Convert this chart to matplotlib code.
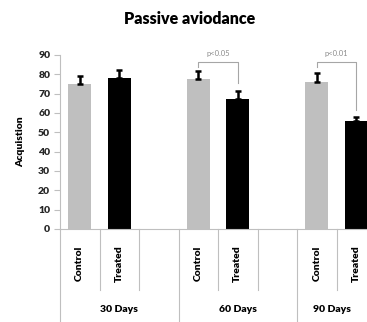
import numpy as np
import matplotlib.pyplot as plt
import matplotlib.transforms as mtransforms

plt.rcParams['font.family'] = ['Lato', 'DejaVu Sans']

groups = ["30 Days", "60 Days", "90 Days"]
arms = ["Control", "Treated"]
control_mean = [75, 77.5, 76]
control_err = [4, 4, 4.5]
treated_mean = [78, 67.5, 56]
treated_err = [4, 4, 2]
# significance brackets: group index, text, left drop to, right drop to, bar level
sig_group = [1, 2]
sig_text = ["p<0.05", "p<0.01"]
sig_level = [86.5, 86.5]
sig_left = [84, 84]
sig_right = [75.5, 61.5]

W, H = 367, 322
fig = plt.figure(figsize=(W / 100, H / 100), dpi=100)
ax_l, ax_r, ax_t, ax_b = 60, 367, 55, 229
ax = fig.add_axes([ax_l / W, (H - ax_b) / H, (ax_r - ax_l) / W, (ax_b - ax_t) / H])

slot_px = 39.5
xmax = -0.5 + (ax_r - ax_l) / slot_px

grey = "#bfbfbf"
line_grey = "#bfbfbf"
wt = "heavy"
x_ctrl = np.arange(len(groups)) * 3
x_trt = x_ctrl + 1
bw = 0.57
ax.bar(x_ctrl, control_mean, width=bw, color=grey, zorder=2)
ax.bar(x_trt, treated_mean, width=bw, color="black", zorder=2)
ax.errorbar(x_ctrl, control_mean, yerr=[np.zeros(3), control_err], fmt="none",
            ecolor="black", elinewidth=1.8, capsize=2.5, capthick=1.8, zorder=3)
ax.errorbar(x_trt, treated_mean, yerr=[np.zeros(3), treated_err], fmt="none",
            ecolor="black", elinewidth=1.8, capsize=2.5, capthick=1.8, zorder=3)

for g, txt, lv, lo, ro in zip(sig_group, sig_text, sig_level, sig_left, sig_right):
    xl, xr = x_ctrl[g], x_trt[g]
    ax.plot([xl, xl, xr, xr], [lo, lv, lv, ro], color="#a6a6a6", lw=0.8, clip_on=False)
    ax.text((xl + xr) / 2, lv + 2.5, txt, ha="center", va="bottom", fontsize=5.5,
            color="#8c8c8c")

ax.set_xlim(-0.5, xmax)
ax.set_ylim(0, 90)
ax.set_yticks(np.arange(0, 91, 10))
ax.tick_params(axis="y", length=4, color=line_grey, labelsize=7.5, labelcolor="#262626", pad=3)
for lab in ax.get_yticklabels():
    lab.set_fontweight(wt)

ticks = []
ticklabels = []
for g in range(len(groups)):
    ticks += [x_ctrl[g], x_trt[g]]
    ticklabels += arms
ax.set_xticks(ticks)
ax.set_xticklabels(ticklabels, rotation=90, fontsize=7.5, fontweight=wt, va="top")
ax.tick_params(axis="x", length=0, pad=12)

for s in ["top", "right"]:
    ax.spines[s].set_visible(False)
ax.spines["left"].set_color(line_grey)
ax.spines["bottom"].set_color(line_grey)

trans = mtransforms.blended_transform_factory(ax.transData, ax.transAxes)
ax_h = ax_b - ax_t
short_end = (ax_b - 290) / ax_h
long_end = (ax_b - H) / ax_h
for g in range(len(groups)):
    xs = 3 * g - 0.5
    ax.plot([xs, xs], [0, long_end], color=line_grey, lw=0.8, transform=trans, clip_on=False)
    for k in range(2):
        xk = 3 * g + k + 0.5
        ax.plot([xk, xk], [0, short_end], color=line_grey, lw=0.8, transform=trans, clip_on=False)
    right = min(3 * g + 2.5, xmax)
    ax.text((xs + right) / 2, (ax_b - 310) / ax_h, groups[g], transform=trans,
            ha="center", va="center", fontsize=7.5, fontweight=wt)

ax.set_ylabel("Acquistion", fontsize=7.5, fontweight=wt)
ax.yaxis.set_label_coords((25 - ax_l) / (ax_r - ax_l), 0.5)

fig.text(190 / W, 1 - 19 / H, "Passive aviodance", ha="center", va="center",
         fontsize=11.5, fontweight=wt)

fig.savefig("out.png", dpi=100)
